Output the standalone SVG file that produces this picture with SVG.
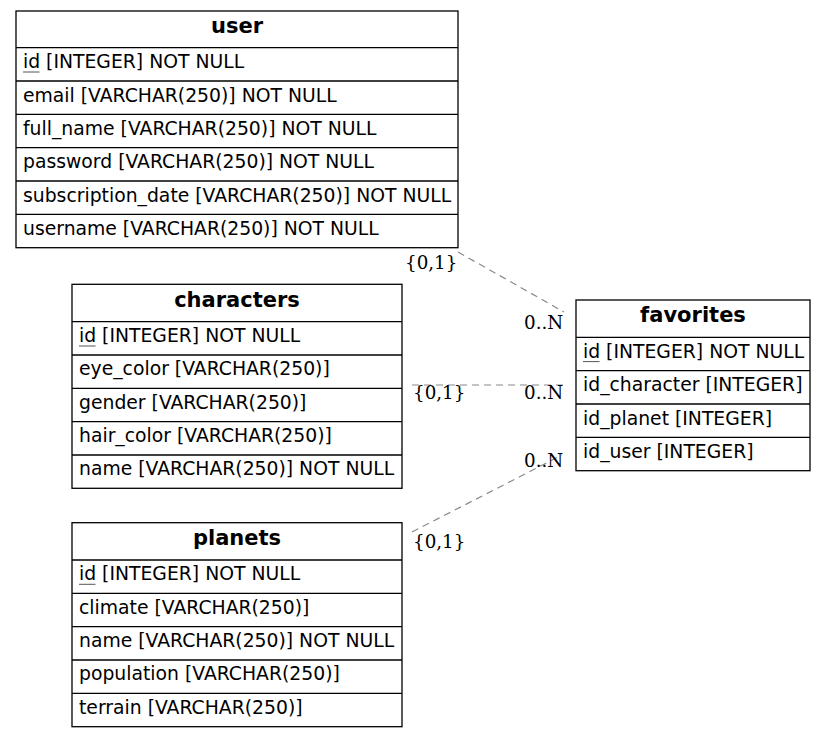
<svg xmlns="http://www.w3.org/2000/svg" width="827" height="737" viewBox="0 0 827 737">
  <style>
    .frame { fill: #ffffff; stroke: #000000; stroke-width: 1.3; }
    .sep { stroke: #000000; stroke-width: 1.3; }
    .title { font-family: "DejaVu Sans", sans-serif; font-weight: bold; font-size: 21px; fill: #000000; text-anchor: middle; }
    .col { font-family: "DejaVu Sans", sans-serif; font-size: 18.8px; fill: #000000; }
    .pk { stroke: #555555; stroke-width: 1; }
    .rel { fill: none; stroke: #8a8a8a; stroke-width: 1.2; stroke-dasharray: 7 5; }
    .card { font-family: "DejaVu Serif", serif; font-size: 18.3px; fill: #000000; }
  </style>
  <rect width="827" height="737" fill="#ffffff"/>

  <!-- relationships -->
  <g id="connectors">
    <line class="rel" x1="458" y1="252" x2="564" y2="312"/>
    <line class="rel" x1="412" y1="385" x2="564" y2="385"/>
    <line class="rel" x1="412" y1="532" x2="562" y2="455"/>
    <text class="card" x="405" y="269">{0,1}</text>
    <text class="card" x="524" y="329">0..N</text>
    <text class="card" x="413" y="399">{0,1}</text>
    <text class="card" x="524" y="399">0..N</text>
    <text class="card" x="524" y="467">0..N</text>
    <text class="card" x="413" y="548">{0,1}</text>
  </g>

  <!-- user table -->
  <g id="user" transform="translate(16,11)">
    <rect class="frame" x="0" y="0" width="442" height="236.7"/>
    <line class="sep" x1="0" y1="36.7" x2="442" y2="36.7"/>
    <line class="sep" x1="0" y1="70" x2="442" y2="70"/>
    <line class="sep" x1="0" y1="103.3" x2="442" y2="103.3"/>
    <line class="sep" x1="0" y1="136.7" x2="442" y2="136.7"/>
    <line class="sep" x1="0" y1="170" x2="442" y2="170"/>
    <line class="sep" x1="0" y1="203.3" x2="442" y2="203.3"/>
    <text class="title" x="221" y="22.3">user</text>
    <text class="col" x="7" y="57.2">id [INTEGER] NOT NULL</text>
    <line class="pk" x1="7" y1="61" x2="23.5" y2="61"/>
    <text class="col" x="7" y="90.5">email [VARCHAR(250)] NOT NULL</text>
    <text class="col" x="7" y="123.8">full_name [VARCHAR(250)] NOT NULL</text>
    <text class="col" x="7" y="157.2">password [VARCHAR(250)] NOT NULL</text>
    <text class="col" x="7" y="190.5">subscription_date [VARCHAR(250)] NOT NULL</text>
    <text class="col" x="7" y="223.8">username [VARCHAR(250)] NOT NULL</text>
  </g>

  <!-- characters table -->
  <g id="characters" transform="translate(72,284.3)">
    <rect class="frame" x="0" y="0" width="330" height="204"/>
    <line class="sep" x1="0" y1="37.4" x2="330" y2="37.4"/>
    <line class="sep" x1="0" y1="70.7" x2="330" y2="70.7"/>
    <line class="sep" x1="0" y1="104" x2="330" y2="104"/>
    <line class="sep" x1="0" y1="137.4" x2="330" y2="137.4"/>
    <line class="sep" x1="0" y1="170.7" x2="330" y2="170.7"/>
    <text class="title" x="165" y="22.3">characters</text>
    <text class="col" x="7" y="57.9">id [INTEGER] NOT NULL</text>
    <line class="pk" x1="7" y1="61.7" x2="23.5" y2="61.7"/>
    <text class="col" x="7" y="91.2">eye_color [VARCHAR(250)]</text>
    <text class="col" x="7" y="124.5">gender [VARCHAR(250)]</text>
    <text class="col" x="7" y="157.9">hair_color [VARCHAR(250)]</text>
    <text class="col" x="7" y="191.2">name [VARCHAR(250)] NOT NULL</text>
  </g>

  <!-- planets table -->
  <g id="planets" transform="translate(72,522.7)">
    <rect class="frame" x="0" y="0" width="330" height="204"/>
    <line class="sep" x1="0" y1="37.3" x2="330" y2="37.3"/>
    <line class="sep" x1="0" y1="70.6" x2="330" y2="70.6"/>
    <line class="sep" x1="0" y1="104" x2="330" y2="104"/>
    <line class="sep" x1="0" y1="137.3" x2="330" y2="137.3"/>
    <line class="sep" x1="0" y1="170.6" x2="330" y2="170.6"/>
    <text class="title" x="165" y="22.3">planets</text>
    <text class="col" x="7" y="57.8">id [INTEGER] NOT NULL</text>
    <line class="pk" x1="7" y1="61.6" x2="23.5" y2="61.6"/>
    <text class="col" x="7" y="91.1">climate [VARCHAR(250)]</text>
    <text class="col" x="7" y="124.5">name [VARCHAR(250)] NOT NULL</text>
    <text class="col" x="7" y="157.8">population [VARCHAR(250)]</text>
    <text class="col" x="7" y="191.1">terrain [VARCHAR(250)]</text>
  </g>

  <!-- favorites table -->
  <g id="favorites" transform="translate(576,300)">
    <rect class="frame" x="0" y="0" width="234" height="170.7"/>
    <line class="sep" x1="0" y1="37.3" x2="234" y2="37.3"/>
    <line class="sep" x1="0" y1="70.7" x2="234" y2="70.7"/>
    <line class="sep" x1="0" y1="104" x2="234" y2="104"/>
    <line class="sep" x1="0" y1="137.3" x2="234" y2="137.3"/>
    <text class="title" x="117" y="22.3">favorites</text>
    <text class="col" x="7" y="57.8">id [INTEGER] NOT NULL</text>
    <line class="pk" x1="7" y1="61.6" x2="23.5" y2="61.6"/>
    <text class="col" x="7" y="91.2">id_character [INTEGER]</text>
    <text class="col" x="7" y="124.5">id_planet [INTEGER]</text>
    <text class="col" x="7" y="157.8">id_user [INTEGER]</text>
  </g>
</svg>
